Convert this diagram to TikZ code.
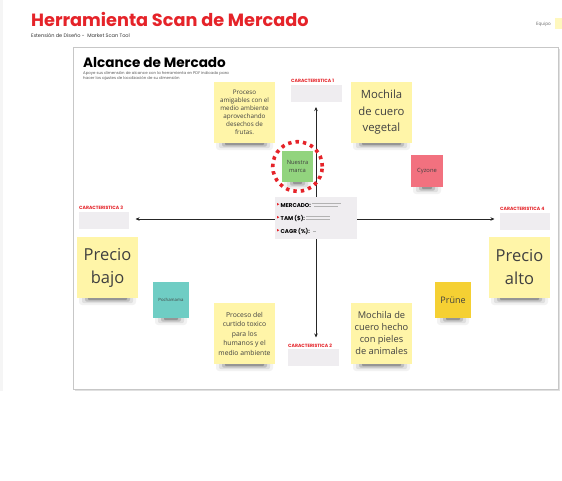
\documentclass[tikz,border=0pt]{standalone}
\usepackage{fontspec}
\setmainfont{Open Sans}
\newfontfamily\popp{Poppins}
\usetikzlibrary{arrows.meta}
\definecolor{brandred}{HTML}{E52329}
\definecolor{stickyy}{HTML}{FFF5A8}
\definecolor{boxgray}{HTML}{EFEDF0}
\definecolor{txtgray}{HTML}{404040}
\definecolor{greennote}{HTML}{92D47E}
\definecolor{pinknote}{HTML}{F2717F}
\definecolor{tealnote}{HTML}{6FCDC4}
\definecolor{goldnote}{HTML}{F5D033}
\tikzset{
  sticky/.style={inner sep=0pt, outer sep=0pt, align=center, text=txtgray},
  charlabel/.style={anchor=base west, inner sep=0pt, text=brandred, font=\popp\bfseries\fontsize{4.6}{5}\selectfont},
  charbox/.style={fill=boxgray, draw=none},
  axisline/.style={draw=black!85, line width=0.9pt, {Stealth[length=4pt,width=3.5pt]}-{Stealth[length=4pt,width=3.5pt]}},
  inforow/.style={anchor=base west, inner sep=0pt, font=\popp\bfseries\fontsize{5.6}{6}\selectfont},
  tinyline/.style={draw=black!30, line width=0.5pt}
}
% #1 name, #2 x, #3 y, #4 size, #5 colour, #6 font, #7 text
\newcommand\mksticky[7]{%
  \fill[black, opacity=0.05, rounded corners=3pt] (#2+2,#3+#4-3) rectangle (#2+#4-2,#3+#4+7);
  \fill[black, opacity=0.08, rounded corners=2pt] (#2+5,#3+#4-3) rectangle (#2+#4-5,#3+#4+5.2);
  \fill[black, opacity=0.14, rounded corners=2pt] (#2+8,#3+#4-3) rectangle (#2+#4-8,#3+#4+3.6);
  \fill[black, opacity=0.22, rounded corners=1pt] (#2+11,#3+#4-3) rectangle (#2+#4-11,#3+#4+2.2);
  \node[sticky, fill=#5, minimum width=#4pt, minimum height=#4pt, font=#6] (#1) at (#2+#4/2,#3+#4/2) {#7};}
\begin{document}
\begin{tikzpicture}[x=1pt,y=-1pt]
\useasboundingbox[fill=white] (0,0) rectangle (562,480);
% left strip
\fill[black!4] (0,0) rectangle (3,391);
% header
\node[anchor=base west, inner sep=0pt, text=brandred, font=\popp\bfseries\fontsize{17.7}{18}\selectfont] (title) at (31,26.5) {Herramienta Scan de Mercado};
\node[anchor=base west, inner sep=0pt, text=black!80, font=\popp\fontsize{5}{5}\selectfont] (subtitle) at (31,37) {Extensión de Diseño -\ \ Market Scan Tool};
\node[anchor=base east, inner sep=0pt, text=black!60, font=\fontsize{4.5}{5}\selectfont] (equipo) at (551,25) {Equipo};
\fill[stickyy!75] (555,18) rectangle (562,29);
% frame
\draw[black!12, line width=1.6pt] (74.5,390) -- (559,390) -- (559,48.5);
\draw[black!22, line width=0.9pt] (73,47) rectangle (558,389);
\node[anchor=base west, inner sep=0pt, font=\popp\bfseries\fontsize{13.6}{14}\selectfont] (heading) at (83,67) {Alcance de Mercado};
\node[anchor=north west, inner sep=0pt, align=left, text=black!65, font=\popp\fontsize{3.9}{5.4}\selectfont] (heading2) at (83,71.2) {Apoye sus dimensión de alcance con la herramienta en PDF indicado para\\hacer los ajustes de localización de su dimensión};
% axes
\coordinate (vtop) at (316,107);
\coordinate (vbot) at (316,337.5);
\coordinate (hleft) at (135.5,219);
\coordinate (hright) at (494.5,219);
\draw[axisline] (vtop) -- (vbot);
\draw[axisline] (hleft) -- (hright);
% characteristic boxes
\node[charlabel] (c1l) at (291,82.5) {CARACTERISTICA 1};
\fill[charbox] (291,85) rectangle (342,102);
\node[charlabel] (c3l) at (79,209.5) {CARACTERISTICA 3};
\fill[charbox] (79,211.5) rectangle (129,228.5);
\node[charlabel] (c4l) at (500,210.5) {CARACTERISTICA 4};
\fill[charbox] (500,212.5) rectangle (550,229.5);
\node[charlabel] (c2l) at (288,347.5) {CARACTERISTICA 2};
\fill[charbox] (288,349) rectangle (339,366);
% info box
\node[fill=boxgray, minimum width=82pt, minimum height=42pt, inner sep=0pt] (info) at (316,218) {};
\foreach \yy in {205.5,218.5,231.5}{\fill[brandred] (277,\yy-2.6) -- (279.3,\yy-1.3) -- (277,\yy);}
\node[inforow] (mercado) at (280.5,207) {MERCADO:};
\node[inforow] (tam) at (280.5,220) {TAM (\$):};
\node[inforow] (cagr) at (280.5,233) {CAGR (\%):};
\draw[tinyline] (311.5,203.5) -- (341,203.5);
\draw[tinyline] (314,206.5) -- (338,206.5);
\draw[tinyline] (306,216.5) -- (330,216.5);
\draw[tinyline] (306,219.5) -- (330,219.5);
\draw[tinyline] (313,231.5) -- (316,231.5);
% sticky notes
\mksticky{n1}{214}{82}{61}{stickyy}{\fontsize{6.3}{8}\selectfont}{Proceso\\amigables con el\\medio ambiente\\aprovechando\\desechos de\\frutas.}
\mksticky{n2}{351}{82}{61}{stickyy}{\fontsize{11.3}{16.5}\selectfont}{Mochila\\de cuero\\vegetal}
\mksticky{cyz}{411}{155}{32}{pinknote}{\color{black!75}\fontsize{5.8}{6}\selectfont}{Cyzone}
\mksticky{pb}{77}{237}{61}{stickyy}{\color{black!75}\fontsize{16.5}{23}\selectfont}{Precio\\bajo}
\mksticky{pocha}{153}{282}{36}{tealnote}{\color{black!75}\fontsize{4.3}{5}\selectfont}{Pochamama}
\mksticky{pa}{489}{237}{61}{stickyy}{\color{black!75}\fontsize{16.5}{23}\selectfont}{Precio\\alto}
\mksticky{prune}{435}{282}{36}{goldnote}{\color{black!75}\fontsize{9}{10}\selectfont}{Prüne}
\mksticky{n3}{214}{303}{61}{stickyy}{\fontsize{6.8}{9.5}\selectfont}{Proceso del\\curtido toxico\\para los\\humanos y el\\medio ambiente}
\mksticky{n4}{351}{303}{61}{stickyy}{\fontsize{9.3}{12}\selectfont}{Mochila de\\cuero hecho\\con pieles\\de animales}
% our brand
\mksticky{brand}{282}{151}{31}{greennote}{\fontsize{5.8}{8}\selectfont}{Nuestra\\marca}
\draw[brandred, line width=3.6pt, dash pattern=on 3.4pt off 4.1pt] (brand.center) circle (24.8pt);
\end{tikzpicture}
\end{document}
